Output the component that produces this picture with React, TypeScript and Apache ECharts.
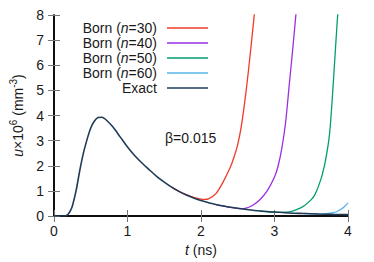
import React, { useEffect, useRef } from "react";
import * as echarts from "echarts";

const FONT = "'Liberation Sans', Arial, Helvetica, sans-serif";
const TEXT = "#1a1a1a";

// axis ticks
const xTicks = [0, 1, 2, 3, 4];
const yTicks = [0, 1, 2, 3, 4, 5, 6, 7, 8];

// Exact solution
const exactT = [0, 0.1, 0.15, 0.175, 0.2, 0.225, 0.25, 0.3, 0.35, 0.4, 0.45, 0.5, 0.55, 0.6, 0.65, 0.7, 0.8, 0.9, 1.0, 1.1, 1.2, 1.3, 1.4, 1.5, 1.6, 1.7, 1.8, 1.9, 2.0, 2.2, 2.4, 2.6, 2.8, 3.0, 3.2, 3.4, 3.6, 3.8, 4.0];
const exactU = [0, 0, 0, 0.03, 0.1, 0.22, 0.4, 1.0, 1.8, 2.5, 3.05, 3.5, 3.78, 3.92, 3.93, 3.85, 3.55, 3.15, 2.75, 2.4, 2.1, 1.83, 1.57, 1.35, 1.15, 0.98, 0.84, 0.72, 0.62, 0.46, 0.35, 0.27, 0.2, 0.16, 0.12, 0.1, 0.08, 0.065, 0.055];

// Born approximations
const born30T = [1.6, 1.7, 1.8, 1.9, 2.0, 2.05, 2.1, 2.2, 2.3, 2.4, 2.45, 2.5, 2.55, 2.6, 2.65, 2.7, 2.75];
const born30U = [1.15, 0.98, 0.85, 0.74, 0.67, 0.66, 0.68, 0.88, 1.35, 1.95, 2.35, 2.85, 3.6, 4.65, 5.9, 7.3, 8.7];

const born40T = [2.2, 2.3, 2.4, 2.5, 2.55, 2.6, 2.7, 2.8, 2.9, 3.0, 3.05, 3.1, 3.15, 3.2, 3.25, 3.3, 3.35];
const born40U = [0.46, 0.4, 0.34, 0.3, 0.29, 0.3, 0.42, 0.65, 1.0, 1.55, 2.0, 2.7, 3.7, 5.2, 6.7, 8.3, 9.9];

const born50T = [2.8, 2.9, 3.0, 3.1, 3.2, 3.3, 3.4, 3.5, 3.55, 3.6, 3.65, 3.7, 3.75, 3.8, 3.85, 3.9];
const born50U = [0.2, 0.17, 0.155, 0.145, 0.16, 0.25, 0.4, 0.65, 0.85, 1.2, 1.65, 2.3, 3.3, 5.3, 7.6, 9.6];

const born60T = [3.4, 3.5, 3.6, 3.7, 3.8, 3.85, 3.9, 3.95, 4.0];
const born60U = [0.1, 0.09, 0.08, 0.09, 0.13, 0.18, 0.26, 0.37, 0.52];

const seriesNames = ["Born (n=30)", "Born (n=40)", "Born (n=50)", "Born (n=60)", "Exact"];
const seriesColors = ["#f03a2a", "#9b30e0", "#009e73", "#56b4e9", "#1f3b57"];
const legendTops = [21, 36, 51, 66, 81];

const zip = (t: number[], u: number[]) => t.map((v, i) => [v, u[i]]);
const seriesData = [
  zip(born30T, born30U),
  zip(born40T, born40U),
  zip(born50T, born50U),
  zip(born60T, born60U),
  zip(exactT, exactU),
];

const rich = {
  a: { fontSize: 14, fontFamily: FONT, color: TEXT },
  i: { fontSize: 14, fontFamily: FONT, color: TEXT, fontStyle: "italic" },
  s: { fontSize: 10, fontFamily: FONT, color: TEXT, padding: [0, 0, 9, 0] },
};
const legendRich = {
  a: { fontSize: 14, lineHeight: 13, fontFamily: FONT, color: TEXT },
  i: { fontSize: 14, lineHeight: 13, fontFamily: FONT, color: TEXT, fontStyle: "italic" },
};

const legendFormatter = (name: string) => {
  const m = name.match(/^Born \(n=(\d+)\)$/);
  return m ? `{a|Born (}{i|n}{a|=${m[1]})}` : `{a|${name}}`;
};

export default function App() {
  const ref = useRef<HTMLDivElement>(null);
  useEffect(() => {
    if (!ref.current) return;
    const chart = echarts.init(ref.current, undefined, { renderer: "svg" });
    const axisLine = { show: true, lineStyle: { color: "#000", width: 1.5 } };
    const axisTick = { show: true, inside: true, length: 6, lineStyle: { color: "#777", width: 1 } };
    chart.setOption({
      animation: false,
      backgroundColor: "#fff",
      textStyle: { fontFamily: FONT },
      grid: { left: 54, right: 26, top: 15, bottom: 46, containLabel: false },
      legend: seriesNames.map((n, i) => ({
        data: [n],
        orient: "vertical",
        align: "right",
        right: 166,
        top: legendTops[i],
        padding: 0,
        icon: "rect",
        itemWidth: 41,
        itemHeight: 1.6,
        selectedMode: false,
        formatter: legendFormatter,
        textStyle: { rich: legendRich, lineHeight: 13, padding: [0, 5, 0, 0] },
      })),
      xAxis: [
        {
          type: "value",
          min: xTicks[0],
          max: xTicks[xTicks.length - 1],
          interval: 1,
          name: "{i|t}{a| (ns)}",
          nameLocation: "middle",
          nameGap: 23,
          nameTextStyle: { rich },
          axisLine,
          axisTick,
          splitLine: { show: false },
          axisLabel: { fontSize: 14, color: TEXT, margin: 8, fontFamily: FONT },
        },
        {
          type: "value",
          position: "top",
          min: xTicks[0],
          max: xTicks[xTicks.length - 1],
          interval: 1,
          axisLine,
          axisTick,
          splitLine: { show: false },
          axisLabel: { show: false },
        },
      ],
      yAxis: [
        {
          type: "value",
          min: yTicks[0],
          max: yTicks[yTicks.length - 1],
          interval: 1,
          name: "{i|u}{a|×10}{s|6}{a| (mm}{s|-3}{a|)}",
          nameLocation: "middle",
          nameGap: 27,
          nameTextStyle: { rich },
          axisLine,
          axisTick,
          splitLine: { show: false },
          axisLabel: { fontSize: 14, color: TEXT, margin: 10, fontFamily: FONT },
        },
        {
          type: "value",
          position: "right",
          min: yTicks[0],
          max: yTicks[yTicks.length - 1],
          interval: 1,
          axisLine,
          axisTick,
          splitLine: { show: false },
          axisLabel: { show: false },
        },
      ],
      graphic: [
        {
          type: "text",
          left: 165,
          top: 131,
          style: { text: "β=0.015", fontSize: 14, fontFamily: FONT, fill: TEXT },
        },
      ],
      series: seriesNames.map((n, i) => ({
        name: n,
        type: "line",
        data: seriesData[i],
        symbol: "none",
        smooth: 0.3,
        clip: true,
        color: seriesColors[i],
        lineStyle: { width: i === 4 ? 1.6 : 1.3, color: seriesColors[i] },
        z: i === 4 ? 5 : 2,
      })),
    });
    return () => chart.dispose();
  }, []);
  return <div ref={ref} style={{ position: "fixed", left: 0, top: 0, width: 374, height: 262 }} />;
}
